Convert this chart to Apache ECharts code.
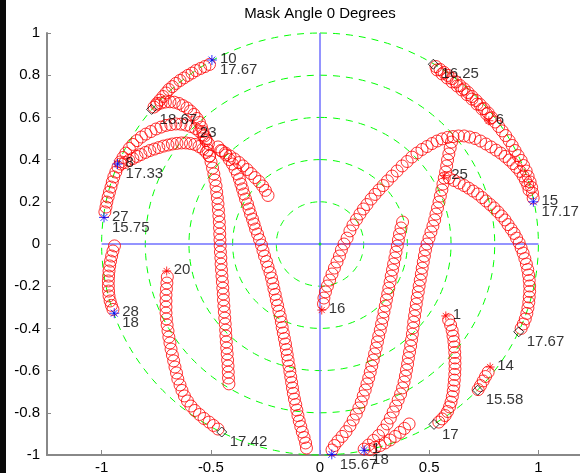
<!DOCTYPE html>
<html>
<head>
<meta charset="utf-8">
<script src="https://cdn.jsdelivr.net/npm/echarts@6/dist/echarts.min.js"></script>
<style>
html, body { margin: 0; padding: 0; background: #fff; }
#main { width: 580px; height: 473px; }
</style>
</head>
<body>
<div id="main"></div>
<script>
// sky plot, mask angle 0 -- tracks, x/y in unit-circle coords
var xTicks = [-1, -0.5, 0, 0.5, 1]
var ringRadii = [0.2, 0.4, 0.6, 0.8, 1]
var crossH = [[-1, 0], [1, 0]]
var crossV = [[0, -1], [0, 1]]
var originDot = [[0, 0]]

var track10 = [[-0.506,0.851],[-0.527,0.841],[-0.547,0.832],[-0.568,0.822],[-0.586,0.810],[-0.605,0.799],[-0.623,0.787],[-0.641,0.775],[-0.660,0.761],[-0.676,0.746],[-0.692,0.732],[-0.705,0.716],[-0.719,0.699],[-0.733,0.682],[-0.747,0.666],[-0.760,0.649]]
var trackHump = [[-0.748,0.659],[-0.728,0.668],[-0.708,0.673],[-0.687,0.674],[-0.667,0.672],[-0.646,0.666],[-0.628,0.656],[-0.609,0.645],[-0.593,0.630],[-0.577,0.614],[-0.563,0.595],[-0.552,0.576],[-0.543,0.554],[-0.536,0.533],[-0.529,0.512],[-0.522,0.490]]
var track27 = [[-0.985,0.152],[-0.980,0.175],[-0.976,0.199],[-0.970,0.223],[-0.964,0.246],[-0.957,0.270],[-0.951,0.294],[-0.944,0.318],[-0.935,0.341],[-0.925,0.365],[-0.914,0.389],[-0.902,0.410],[-0.889,0.431],[-0.873,0.453],[-0.857,0.472],[-0.838,0.490],[-0.818,0.507],[-0.797,0.521],[-0.774,0.533],[-0.751,0.545],[-0.728,0.554],[-0.705,0.562],[-0.683,0.566],[-0.660,0.569],[-0.637,0.568],[-0.614,0.564],[-0.591,0.557],[-0.570,0.547],[-0.552,0.533],[-0.536,0.517],[-0.522,0.498],[-0.511,0.476]]
var track8 = [[-0.912,0.379],[-0.893,0.386],[-0.875,0.396],[-0.857,0.405],[-0.838,0.415],[-0.820,0.424],[-0.799,0.434],[-0.779,0.443],[-0.758,0.450],[-0.738,0.457],[-0.717,0.464],[-0.696,0.469],[-0.676,0.474],[-0.655,0.477],[-0.634,0.479],[-0.614,0.479],[-0.593,0.476],[-0.573,0.472],[-0.554,0.462],[-0.536,0.450],[-0.520,0.434],[-0.506,0.417]]
var trackA = [[-0.513,0.445],[-0.506,0.417],[-0.499,0.389],[-0.492,0.360],[-0.486,0.332],[-0.481,0.303],[-0.476,0.275],[-0.473,0.246],[-0.470,0.218],[-0.467,0.190],[-0.465,0.161],[-0.463,0.133],[-0.461,0.104],[-0.460,0.076],[-0.459,0.047],[-0.458,0.019],[-0.457,-0.009],[-0.456,-0.038],[-0.454,-0.066],[-0.453,-0.095],[-0.451,-0.123],[-0.449,-0.152],[-0.447,-0.180],[-0.445,-0.209],[-0.443,-0.237],[-0.442,-0.265],[-0.440,-0.294],[-0.438,-0.322],[-0.436,-0.351],[-0.434,-0.379],[-0.432,-0.408],[-0.431,-0.436],[-0.429,-0.464],[-0.427,-0.493],[-0.425,-0.521],[-0.423,-0.550],[-0.421,-0.578],[-0.420,-0.607],[-0.419,-0.635],[-0.417,-0.663]]
var trackB = [[-0.467,0.460],[-0.449,0.441],[-0.431,0.422],[-0.415,0.400],[-0.401,0.379],[-0.389,0.355],[-0.378,0.332],[-0.369,0.308],[-0.362,0.284],[-0.355,0.261],[-0.348,0.237],[-0.341,0.213],[-0.332,0.190],[-0.325,0.166],[-0.318,0.142],[-0.309,0.118],[-0.302,0.095],[-0.295,0.071],[-0.286,0.047],[-0.277,0.021],[-0.268,-0.005],[-0.261,-0.031],[-0.254,-0.057],[-0.245,-0.083],[-0.238,-0.109],[-0.229,-0.135],[-0.222,-0.161],[-0.216,-0.187],[-0.211,-0.213],[-0.205,-0.239],[-0.200,-0.265],[-0.194,-0.291],[-0.188,-0.318],[-0.182,-0.344],[-0.177,-0.370],[-0.173,-0.396],[-0.168,-0.422],[-0.163,-0.448],[-0.158,-0.474],[-0.154,-0.500],[-0.150,-0.526],[-0.146,-0.552],[-0.142,-0.578],[-0.138,-0.604],[-0.134,-0.630],[-0.130,-0.656],[-0.126,-0.682],[-0.122,-0.708],[-0.117,-0.735],[-0.111,-0.761],[-0.106,-0.787],[-0.101,-0.813],[-0.095,-0.839],[-0.088,-0.865],[-0.081,-0.891],[-0.073,-0.917],[-0.066,-0.943],[-0.062,-0.967]]
var trackC = [[-0.454,0.443],[-0.433,0.431],[-0.412,0.417],[-0.392,0.403],[-0.371,0.386],[-0.353,0.370],[-0.334,0.353],[-0.316,0.334],[-0.298,0.315],[-0.279,0.296],[-0.263,0.275],[-0.250,0.254],[-0.238,0.230]]
var trackOuter = [[0.531,0.841],[0.550,0.827],[0.568,0.813],[0.586,0.799],[0.605,0.784],[0.623,0.768],[0.641,0.751],[0.660,0.735],[0.678,0.718],[0.696,0.699],[0.715,0.680],[0.733,0.661],[0.751,0.642],[0.770,0.621],[0.786,0.599],[0.802,0.578],[0.818,0.557],[0.834,0.536],[0.850,0.514],[0.866,0.490],[0.880,0.467],[0.893,0.443],[0.907,0.419],[0.921,0.396],[0.932,0.372],[0.944,0.346],[0.953,0.320],[0.962,0.294],[0.969,0.268],[0.973,0.242],[0.976,0.218]]
var trackOuter2 = [[0.536,0.825],[0.559,0.806],[0.582,0.787],[0.605,0.768],[0.628,0.749],[0.650,0.730],[0.673,0.708],[0.696,0.687],[0.719,0.663],[0.742,0.640],[0.763,0.616],[0.779,0.595]]
var trackArch = [[0.016,-0.284],[0.018,-0.256],[0.025,-0.227],[0.034,-0.199],[0.044,-0.171],[0.055,-0.142],[0.066,-0.114],[0.078,-0.085],[0.089,-0.057],[0.098,-0.028],[0.110,0.000],[0.124,0.028],[0.137,0.062],[0.151,0.090],[0.167,0.116],[0.183,0.142],[0.199,0.166],[0.215,0.187],[0.234,0.213],[0.252,0.235],[0.270,0.256],[0.289,0.277],[0.309,0.299],[0.330,0.322],[0.353,0.346],[0.376,0.370],[0.399,0.391],[0.421,0.412],[0.444,0.431],[0.467,0.448],[0.490,0.462],[0.513,0.476],[0.536,0.488],[0.559,0.498],[0.584,0.505],[0.609,0.509],[0.634,0.512],[0.660,0.512],[0.685,0.507],[0.710,0.500],[0.735,0.488],[0.760,0.474],[0.783,0.460],[0.806,0.445],[0.827,0.431],[0.847,0.415],[0.866,0.398],[0.884,0.381],[0.900,0.363],[0.916,0.344],[0.930,0.322],[0.941,0.301],[0.951,0.280],[0.957,0.256]]
var trackSteep = [[0.602,0.483],[0.596,0.455],[0.590,0.427],[0.584,0.398],[0.580,0.370],[0.575,0.341],[0.569,0.313],[0.563,0.284],[0.558,0.256],[0.551,0.227],[0.545,0.199],[0.538,0.171],[0.531,0.142],[0.525,0.114],[0.517,0.085],[0.508,0.057],[0.499,0.028],[0.490,0.000],[0.483,-0.028],[0.478,-0.057],[0.473,-0.085],[0.468,-0.114],[0.464,-0.142],[0.459,-0.171],[0.454,-0.199],[0.450,-0.227],[0.445,-0.256],[0.441,-0.284],[0.437,-0.313],[0.433,-0.341],[0.429,-0.370],[0.426,-0.398],[0.423,-0.427],[0.419,-0.455],[0.415,-0.483],[0.410,-0.512],[0.405,-0.540],[0.401,-0.569],[0.396,-0.597],[0.391,-0.626],[0.385,-0.654],[0.378,-0.682],[0.369,-0.711],[0.358,-0.739],[0.347,-0.768],[0.335,-0.796],[0.322,-0.825],[0.307,-0.853],[0.289,-0.882],[0.268,-0.908],[0.245,-0.931],[0.222,-0.953],[0.202,-0.972]]
var trackMiddle = [[0.378,0.104],[0.371,0.076],[0.364,0.047],[0.359,0.019],[0.354,-0.009],[0.348,-0.038],[0.343,-0.066],[0.337,-0.095],[0.332,-0.123],[0.326,-0.152],[0.321,-0.180],[0.315,-0.209],[0.310,-0.237],[0.304,-0.265],[0.299,-0.294],[0.293,-0.322],[0.288,-0.351],[0.282,-0.379],[0.276,-0.408],[0.269,-0.436],[0.263,-0.464],[0.257,-0.493],[0.250,-0.521],[0.244,-0.550],[0.237,-0.578],[0.230,-0.607],[0.223,-0.635],[0.215,-0.663],[0.207,-0.692],[0.198,-0.720],[0.189,-0.749],[0.178,-0.777],[0.166,-0.806],[0.152,-0.834],[0.137,-0.862],[0.119,-0.889],[0.101,-0.912],[0.082,-0.934],[0.066,-0.955],[0.055,-0.976]]
var trackShort = [[0.408,-0.853],[0.387,-0.874],[0.366,-0.893],[0.344,-0.912],[0.321,-0.929],[0.298,-0.943],[0.275,-0.955],[0.252,-0.964],[0.229,-0.974]]
var track25 = [[0.591,0.313],[0.614,0.301],[0.637,0.289],[0.660,0.277],[0.680,0.265],[0.701,0.251],[0.722,0.237],[0.742,0.220],[0.760,0.204],[0.779,0.187],[0.797,0.171],[0.815,0.152],[0.831,0.133],[0.847,0.114],[0.861,0.092],[0.875,0.071],[0.889,0.050],[0.900,0.028],[0.912,0.005],[0.921,-0.019],[0.930,-0.043],[0.938,-0.069],[0.945,-0.095],[0.951,-0.121],[0.955,-0.147],[0.958,-0.173],[0.960,-0.199],[0.960,-0.225],[0.958,-0.251],[0.956,-0.277],[0.952,-0.303],[0.947,-0.329],[0.940,-0.355],[0.931,-0.379],[0.921,-0.400]]
var track1 = [[0.589,-0.360],[0.598,-0.384],[0.605,-0.410],[0.609,-0.436],[0.613,-0.462],[0.615,-0.488],[0.617,-0.514],[0.618,-0.540],[0.618,-0.566],[0.618,-0.592],[0.617,-0.618],[0.615,-0.645],[0.613,-0.671],[0.610,-0.697],[0.606,-0.723],[0.600,-0.749],[0.593,-0.772],[0.584,-0.794],[0.573,-0.813],[0.559,-0.829],[0.544,-0.844]]
var track14 = [[0.770,-0.607],[0.758,-0.628],[0.747,-0.649],[0.735,-0.671],[0.724,-0.690]]
var track28 = [[-0.941,-0.009],[-0.948,-0.033],[-0.954,-0.057],[-0.959,-0.081],[-0.963,-0.104],[-0.966,-0.128],[-0.968,-0.152],[-0.969,-0.175],[-0.969,-0.199],[-0.968,-0.223],[-0.966,-0.246],[-0.961,-0.270],[-0.955,-0.291],[-0.948,-0.310]]
var track20 = [[-0.699,-0.156],[-0.701,-0.185],[-0.703,-0.213],[-0.705,-0.242],[-0.705,-0.270],[-0.705,-0.299],[-0.705,-0.327],[-0.703,-0.355],[-0.700,-0.384],[-0.696,-0.412],[-0.692,-0.441],[-0.687,-0.469],[-0.682,-0.498],[-0.676,-0.526],[-0.670,-0.554],[-0.664,-0.583],[-0.657,-0.611],[-0.651,-0.640],[-0.641,-0.668],[-0.632,-0.694],[-0.621,-0.720],[-0.607,-0.744],[-0.591,-0.768],[-0.573,-0.789],[-0.552,-0.808],[-0.531,-0.827],[-0.508,-0.844],[-0.488,-0.860],[-0.467,-0.877]]

// [x, y, satellite, time]
var blueStars = [
  [-0.495, 0.872, '10', '17.67'],
  [-0.927, 0.379, '8', '17.33'],
  [-0.989, 0.126, '27', '15.75'],
  [0.977, 0.200, '15', '17.17'],
  [-0.942, -0.328, '28', '18'],
  [0.054, -0.997, '', '15.67'],
  [0.202, -0.978, '1', '18']
]
// [x, y, satellite]
var redStars = [
  [0.773, 0.584, '6'],
  [0.569, 0.324, '25'],
  [-0.702, -0.128, '20'],
  [0.008, -0.313, '16'],
  [0.576, -0.341, '1'],
  [0.779, -0.583, '14']
]
// [x, y, time]
var diamonds = [
  [-0.771, 0.638, '18.67'],
  [0.519, 0.852, '16.25'],
  [-0.450, -0.891, '17.42'],
  [0.910, -0.416, '17.67'],
  [0.722, -0.693, '15.58'],
  [0.522, -0.855, '17']
]
var looseLabels = [[-0.582, 0.528, '23']]

var FONT = '"Liberation Sans", Arial, Helvetica, sans-serif'
var STAR = 'path://M5,0L5,10M0,5L10,5M1.6,1.6L8.4,8.4M1.6,8.4L8.4,1.6'

var tracks = [track10, trackHump, track27, track8, trackA, trackB, trackC, trackOuter, trackOuter2,
  trackArch, trackSteep, trackMiddle, trackShort, track25, track1, track14, track28, track20]
var allPoints = [].concat.apply([], tracks)

function textSeries (rows, idx, dist, offset) {
  return {
    type: 'scatter',
    z: 6,
    silent: true,
    symbol: 'circle',
    symbolSize: 1,
    itemStyle: { color: 'rgba(0,0,0,0)' },
    data: rows.map(function (r) { return { value: [r[0], r[1]], text: r[idx] } }),
    label: {
      show: true,
      position: 'right',
      distance: dist,
      offset: offset,
      formatter: function (p) { return p.data.text },
      color: '#000',
      fontSize: 15,
      fontFamily: FONT
    }
  }
}

function markSeries (rows, symbol, size, stroke) {
  return {
    type: 'scatter',
    z: 5,
    silent: true,
    symbol: symbol,
    symbolSize: size,
    symbolKeepAspect: true,
    itemStyle: { color: 'rgba(0,0,0,0)', borderColor: stroke, borderWidth: 1 },
    data: rows.map(function (r) { return [r[0], r[1]] })
  }
}

var chart = echarts.init(document.getElementById('main'))
chart.setOption({
  animation: false,
  backgroundColor: '#fff',
  // plot box runs past the right edge of the window, as in the original crop
  grid: { left: 47, width: 546, top: 33, height: 422, containLabel: false, outerBoundsMode: 'none' },
  graphic: [
    { type: 'rect', left: 0, top: 0, shape: { width: 6, height: 473 }, style: { fill: '#0a0a0a' } },
    { type: 'text', x: 320, y: 14, style: { text: 'Mask Angle 0 Degrees', fill: '#000', font: '15px ' + FONT, textAlign: 'center', textVerticalAlign: 'middle' } }
  ],
  xAxis: {
    type: 'value',
    min: -1.25,
    max: 1.25,
    axisLine: { show: true, onZero: false, lineStyle: { color: '#888', width: 2 } },
    axisTick: { show: true, inside: true, length: 5, customValues: xTicks, lineStyle: { color: '#888' } },
    axisLabel: { customValues: xTicks, margin: 5, color: '#000', fontSize: 15, fontFamily: FONT },
    splitLine: { show: false }
  },
  yAxis: {
    type: 'value',
    min: -1,
    max: 1,
    interval: 0.2,
    axisLine: { show: true, onZero: false, lineStyle: { color: '#888', width: 2 } },
    axisTick: { show: true, inside: true, length: 4, lineStyle: { color: '#888' } },
    axisLabel: { margin: 7, color: '#000', fontSize: 15, fontFamily: FONT },
    splitLine: { show: false }
  },
  series: [
    {
      type: 'custom',
      z: 1,
      silent: true,
      data: ringRadii.map(function (r) { return [r, 0] }),
      renderItem: function (params, api) {
        var r = api.value(0)
        var pts = []
        for (var a = 0; a <= 360; a += 2) {
          var t = a * Math.PI / 180
          pts.push(api.coord([r * Math.sin(t), r * Math.cos(t)]))
        }
        return {
          type: 'polyline',
          shape: { points: pts },
          style: { stroke: '#00ff00', lineWidth: 1, lineDash: [7, 6], fill: null }
        }
      }
    },
    { type: 'line', z: 2, silent: true, data: crossH, symbol: 'none', lineStyle: { color: '#7070ff', width: 1.5 } },
    { type: 'line', z: 2, silent: true, data: crossV, symbol: 'none', lineStyle: { color: '#7070ff', width: 1.5 } },
    { type: 'scatter', z: 2, silent: true, data: originDot, symbolSize: 3, itemStyle: { color: '#00ff00' } },
    {
      type: 'scatter',
      z: 3,
      silent: true,
      symbol: 'circle',
      symbolSize: 12,
      itemStyle: { color: 'rgba(0,0,0,0)', borderColor: '#ff0000', borderWidth: 1 },
      data: allPoints
    },
    markSeries(blueStars, STAR, 10, '#0000ff'),
    markSeries(redStars, STAR, 9, '#ff0000'),
    markSeries(diamonds, 'diamond', 10, '#000'),
    textSeries(blueStars, 2, 7.5, [0, -1]),
    textSeries(blueStars, 3, 7.5, [0, 10]),
    textSeries(redStars, 2, 6.5, [0, -1]),
    textSeries(diamonds, 2, 7.5, [0, 10]),
    textSeries(looseLabels, 2, 6.5, [0, 0])
  ]
})
</script>
</body>
</html>
